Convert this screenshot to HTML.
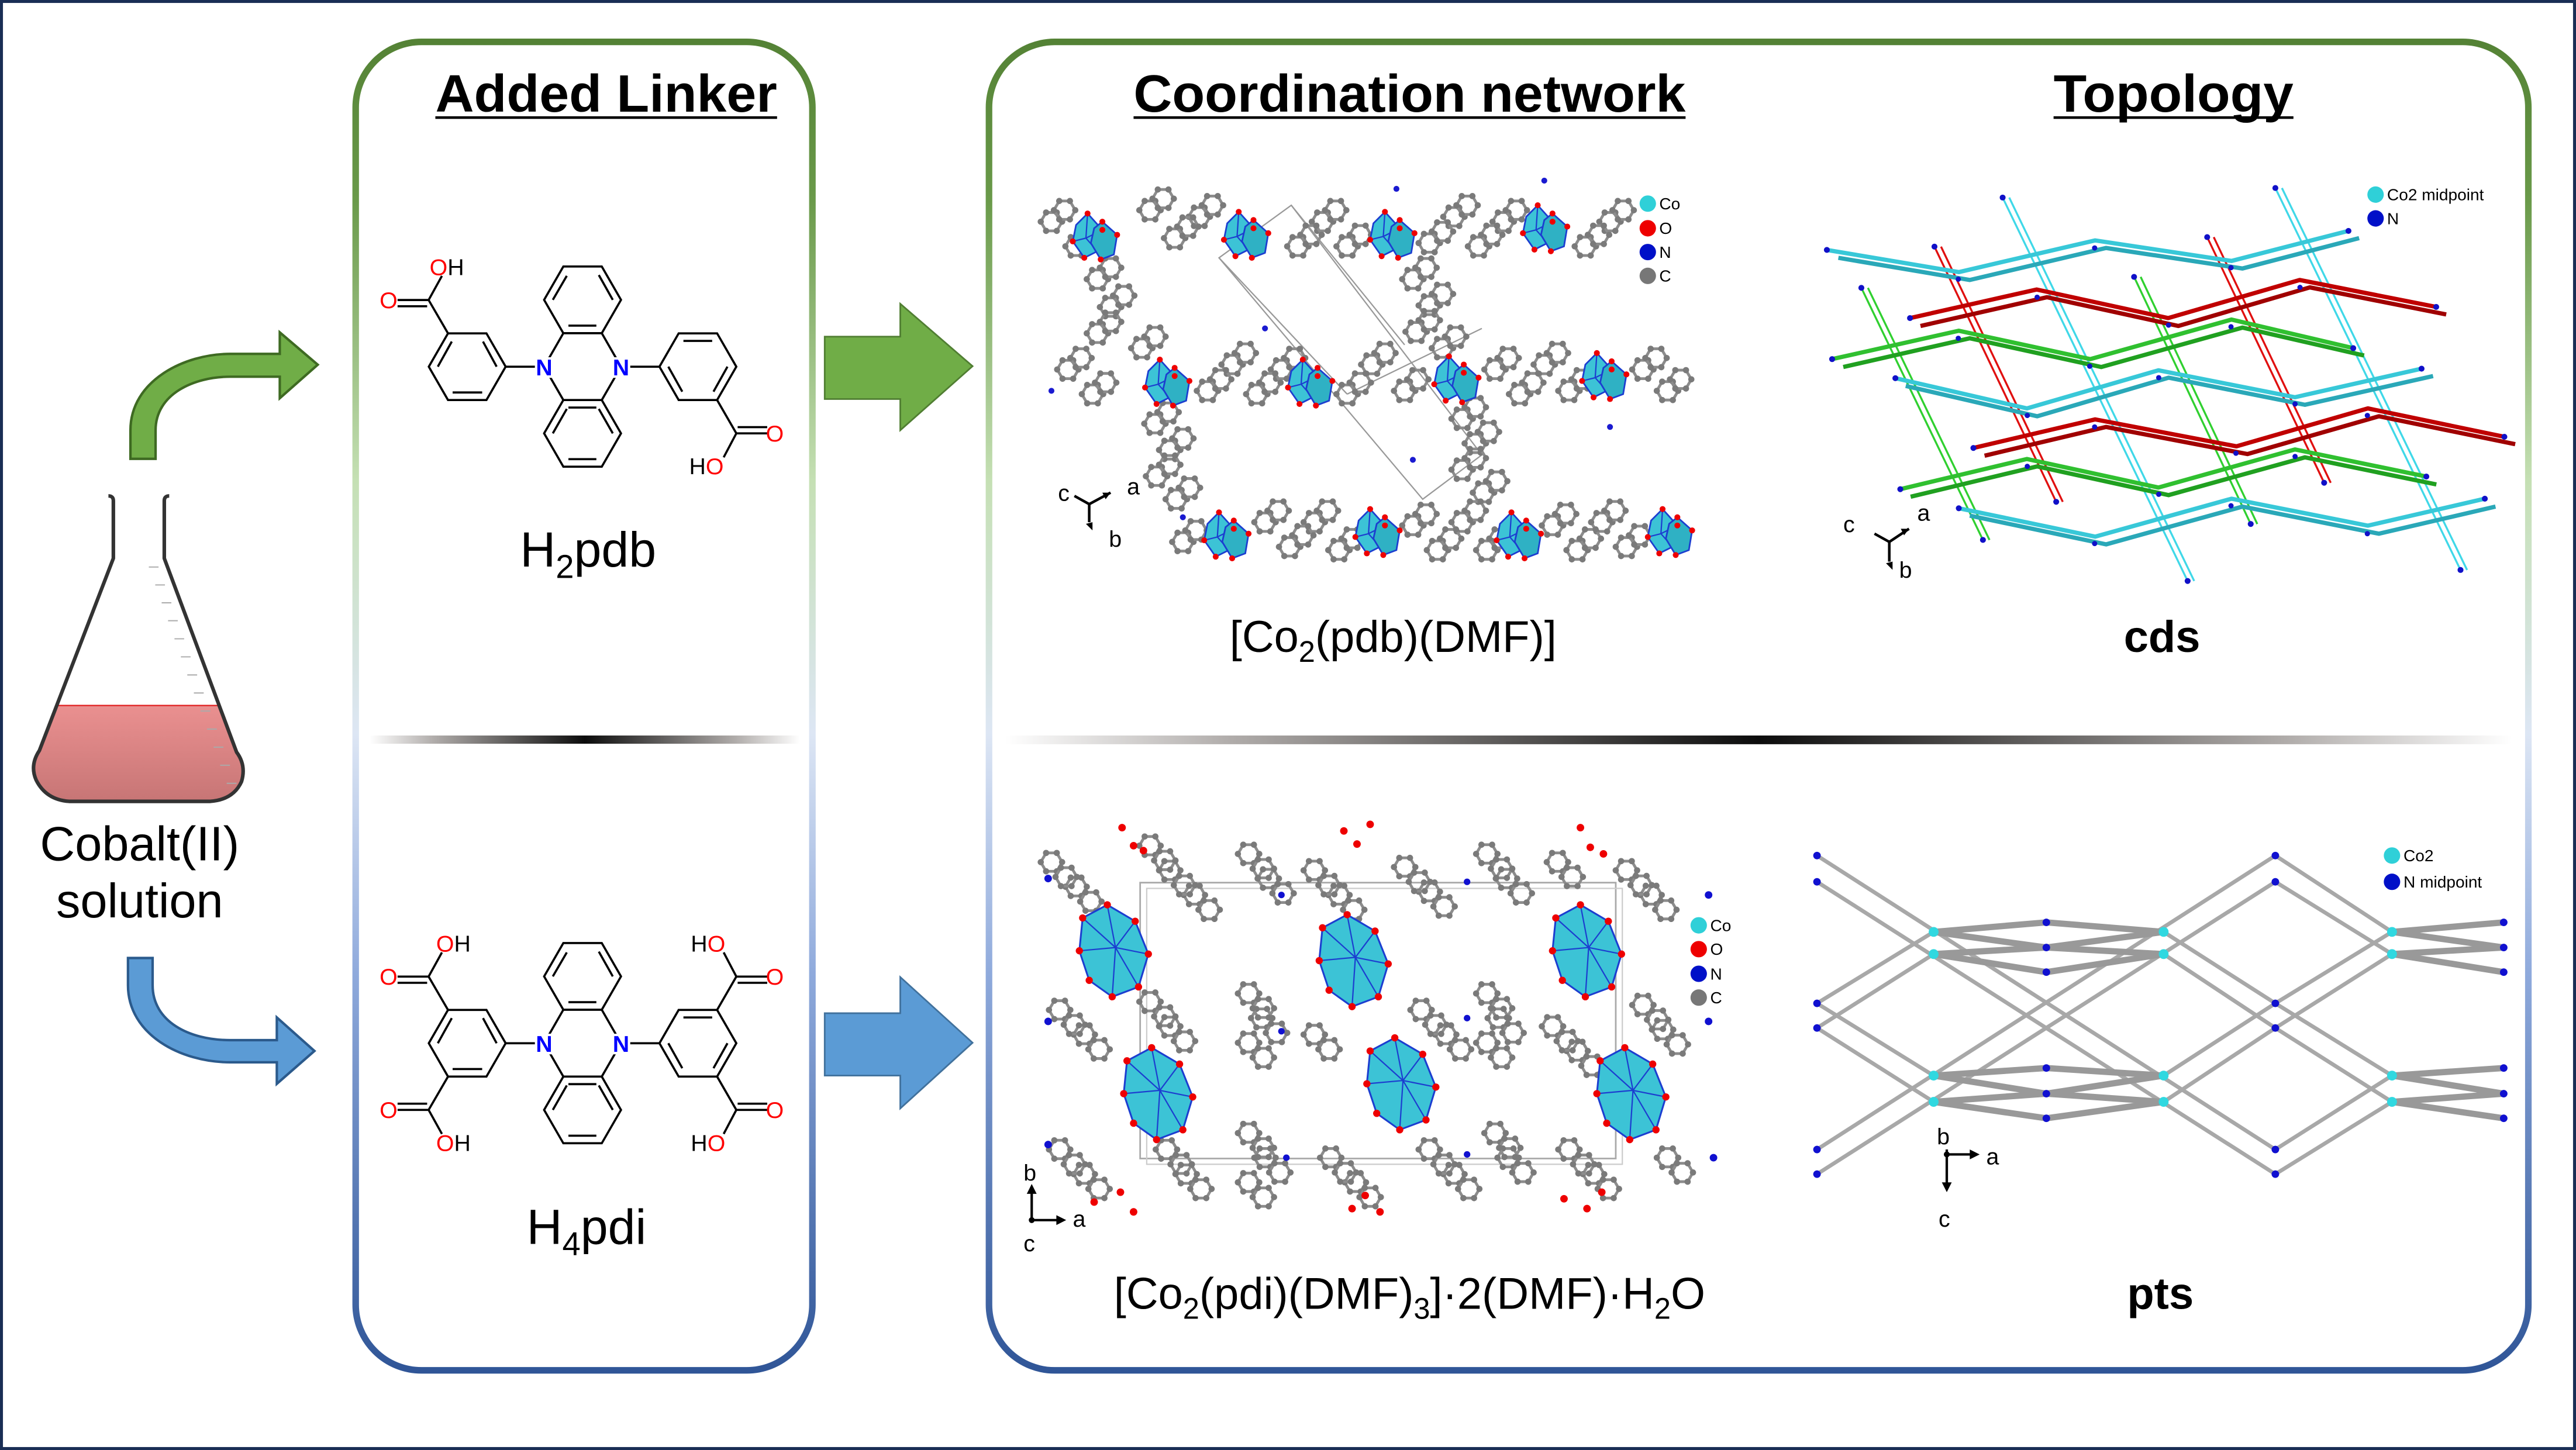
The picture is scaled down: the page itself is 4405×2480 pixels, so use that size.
<!DOCTYPE html>
<html><head><meta charset="utf-8"><style>
html,body{margin:0;padding:0;background:#fff;}
svg{display:block;}
text{font-family:"Liberation Sans",Arial,sans-serif;}
</style></head><body>
<svg width="4405" height="2480" viewBox="0 0 1568 883" preserveAspectRatio="none" xmlns="http://www.w3.org/2000/svg">
<defs>
<linearGradient id="pg" gradientUnits="userSpaceOnUse" x1="0" y1="25" x2="0" y2="836">
<stop offset="0" stop-color="#548235"/><stop offset="0.12" stop-color="#6a9a4a"/><stop offset="0.33" stop-color="#c5e0b4"/><stop offset="0.52" stop-color="#dde6f4"/><stop offset="0.7" stop-color="#8faadc"/><stop offset="1" stop-color="#2f5597"/>
</linearGradient>
<linearGradient id="dv" x1="0" y1="0" x2="1" y2="0">
<stop offset="0" stop-color="#fff"/><stop offset="0.15" stop-color="#b0acaa"/><stop offset="0.5" stop-color="#0c0c0c"/><stop offset="0.85" stop-color="#b0acaa"/><stop offset="1" stop-color="#fff"/>
</linearGradient>
<linearGradient id="liq" x1="0" y1="0" x2="0" y2="1">
<stop offset="0" stop-color="#ea9090"/><stop offset="1" stop-color="#c07070"/>
</linearGradient>
<clipPath id="fc"><path d="M69,300 L69,340 L24,457 Q18,466 22,475 Q28,487 42,488 L128,488 Q142,487 147,476 Q150,466 144,458 L100,340 L100,300 Z"/></clipPath>
<g id="ring"><polygon points="-6.5,0 -3.25,-5.6 3.25,-5.6 6.5,0 3.25,5.6 -3.25,5.6" fill="none" stroke="#8c8c8c" stroke-width="1.7"/><circle cx="-6.5" cy="0" r="1.9" fill="#7a7a7a"/><circle cx="-3.25" cy="-5.6" r="1.9" fill="#7a7a7a"/><circle cx="3.25" cy="-5.6" r="1.9" fill="#7a7a7a"/><circle cx="6.5" cy="0" r="1.9" fill="#7a7a7a"/><circle cx="3.25" cy="5.6" r="1.9" fill="#7a7a7a"/><circle cx="-3.25" cy="5.6" r="1.9" fill="#7a7a7a"/></g>
<g id="poly"><polygon points="0,-13 9,-3 6,10 -2,14 -9,4 -7,-6" fill="#3cc3d6" stroke="#1c3ed0" stroke-width="1"/><polyline points="0,-13 -1,2 6,10" fill="none" stroke="#1c3ed0" stroke-width="0.8"/><line x1="-1" y1="2" x2="-9" y2="4" stroke="#1c3ed0" stroke-width="0.8"/><line x1="-1" y1="2" x2="9" y2="-3" stroke="#1c3ed0" stroke-width="0.8"/><polygon points="9,-8 18,0 16,12 8,15 2,5 4,-4" fill="#2fb1c4" stroke="#1c3ed0" stroke-width="1"/><circle cx="0" cy="-13" r="1.8" fill="#e00"/><circle cx="9" cy="-3" r="1.8" fill="#e00"/><circle cx="-9" cy="4" r="1.8" fill="#e00"/><circle cx="-2" cy="14" r="1.8" fill="#e00"/><circle cx="18" cy="0" r="1.8" fill="#e00"/><circle cx="8" cy="15" r="1.8" fill="#e00"/><circle cx="9" cy="-8" r="1.8" fill="#e00"/></g>
<g id="bigpoly"><polygon points="-20,-20 -5,-28 12,-18 20,2 14,22 -2,28 -16,18 -22,0" fill="#3cc3d6" stroke="#1c3ed0" stroke-width="1.1"/><polyline points="-20,-20 0,-2 12,-18" fill="none" stroke="#1c3ed0" stroke-width="0.8"/><path d="M0,-2 L20,2 M0,-2 L-2,28 M0,-2 L-22,0 M-5,-28 L0,-2 M14,22 L0,-2" fill="none" stroke="#1c3ed0" stroke-width="0.8"/><circle cx="-20" cy="-20" r="2.2" fill="#e00"/><circle cx="-5" cy="-28" r="2.2" fill="#e00"/><circle cx="12" cy="-18" r="2.2" fill="#e00"/><circle cx="20" cy="2" r="2.2" fill="#e00"/><circle cx="14" cy="22" r="2.2" fill="#e00"/><circle cx="-2" cy="28" r="2.2" fill="#e00"/><circle cx="-16" cy="18" r="2.2" fill="#e00"/><circle cx="-22" cy="0" r="2.2" fill="#e00"/></g>
<g id="core" fill="none" stroke="#000" stroke-width="1.3">
<polygon points="331.2,182.6 342.9,162.3 366.3,162.3 378,182.6 366.3,202.9 342.9,202.9"/>
<polygon points="331.2,263.9 342.9,243.6 366.3,243.6 378,263.9 366.3,284.2 342.9,284.2"/>
<polyline points="342.9,202.9 331.2,223.3 342.9,243.6"/>
<polyline points="366.3,202.9 378,223.3 366.3,243.6"/>
<polygon points="261,223.3 272.7,203 296.1,203 307.8,223.3 296.1,243.6 272.7,243.6"/>
<polygon points="401.4,223.3 413.1,203 436.5,203 448.2,223.3 436.5,243.6 413.1,243.6"/>
<line x1="307.8" y1="223.3" x2="331.2" y2="223.3"/><line x1="378" y1="223.3" x2="401.4" y2="223.3"/>
<line x1="336.5" y1="182.6" x2="345" y2="168"/>
<line x1="346" y1="198.3" x2="363" y2="198.3"/><line x1="373" y1="182.6" x2="364.5" y2="167.5"/>
<line x1="346" y1="248.2" x2="363" y2="248.2"/><line x1="346" y1="279.6" x2="363" y2="279.6"/><line x1="336.5" y1="263.9" x2="345" y2="249"/><line x1="373" y1="263.9" x2="364.5" y2="249"/>
<line x1="275.5" y1="239" x2="293.5" y2="239"/><line x1="266.5" y1="223.3" x2="275" y2="208"/><line x1="302.3" y1="223.3" x2="294" y2="208"/>
<line x1="416" y1="207.6" x2="433.5" y2="207.6"/><line x1="406.8" y1="223.3" x2="415.3" y2="238.5"/><line x1="442.8" y1="223.3" x2="434.3" y2="238.5"/>
</g>
<g id="topRings">
<use href="#ring" x="640" y="135"/><use href="#ring" x="655" y="150"/><use href="#ring" x="700" y="128"/><use href="#ring" x="715" y="145"/><use href="#ring" x="730" y="132"/><use href="#ring" x="790" y="150"/><use href="#ring" x="805" y="135"/><use href="#ring" x="820" y="150"/><use href="#ring" x="870" y="148"/><use href="#ring" x="885" y="132"/><use href="#ring" x="900" y="150"/><use href="#ring" x="915" y="135"/><use href="#ring" x="965" y="150"/><use href="#ring" x="980" y="135"/>
<use href="#ring" x="650" y="225"/><use href="#ring" x="665" y="240"/><use href="#ring" x="735" y="238"/><use href="#ring" x="750" y="222"/><use href="#ring" x="765" y="240"/><use href="#ring" x="780" y="225"/><use href="#ring" x="820" y="240"/><use href="#ring" x="835" y="222"/><use href="#ring" x="855" y="238"/><use href="#ring" x="910" y="225"/><use href="#ring" x="925" y="240"/><use href="#ring" x="940" y="222"/><use href="#ring" x="955" y="238"/><use href="#ring" x="1000" y="225"/><use href="#ring" x="1015" y="238"/>
<use href="#ring" x="720" y="330"/><use href="#ring" x="770" y="318"/><use href="#ring" x="785" y="333"/><use href="#ring" x="800" y="318"/><use href="#ring" x="815" y="335"/><use href="#ring" x="860" y="320"/><use href="#ring" x="875" y="335"/><use href="#ring" x="890" y="318"/><use href="#ring" x="905" y="335"/><use href="#ring" x="945" y="320"/><use href="#ring" x="960" y="335"/><use href="#ring" x="975" y="318"/><use href="#ring" x="990" y="333"/>
<use href="#ring" x="668" y="170"/><use href="#ring" x="676" y="187"/><use href="#ring" x="668" y="203"/><use href="#ring" x="695" y="212"/>
<use href="#ring" x="860" y="170"/><use href="#ring" x="870" y="186"/><use href="#ring" x="862" y="202"/><use href="#ring" x="878" y="212"/>
<use href="#ring" x="703" y="258"/><use href="#ring" x="712" y="274"/><use href="#ring" x="704" y="290"/><use href="#ring" x="716" y="304"/>
<use href="#ring" x="890" y="255"/><use href="#ring" x="898" y="270"/><use href="#ring" x="890" y="286"/><use href="#ring" x="903" y="300"/>
</g>
<g id="botRings">
<use href="#ring" x="640" y="525"/><use href="#ring" x="655" y="540"/><use href="#ring" x="700" y="515"/><use href="#ring" x="712" y="530"/><use href="#ring" x="727" y="545"/><use href="#ring" x="760" y="520"/><use href="#ring" x="772" y="535"/><use href="#ring" x="800" y="530"/><use href="#ring" x="815" y="545"/><use href="#ring" x="855" y="528"/><use href="#ring" x="870" y="543"/><use href="#ring" x="905" y="520"/><use href="#ring" x="917" y="535"/><use href="#ring" x="948" y="525"/><use href="#ring" x="990" y="530"/><use href="#ring" x="1005" y="545"/>
<use href="#ring" x="645" y="615"/><use href="#ring" x="660" y="630"/><use href="#ring" x="700" y="610"/><use href="#ring" x="712" y="625"/><use href="#ring" x="760" y="605"/><use href="#ring" x="768" y="620"/><use href="#ring" x="760" y="635"/><use href="#ring" x="800" y="630"/><use href="#ring" x="865" y="615"/><use href="#ring" x="880" y="630"/><use href="#ring" x="905" y="605"/><use href="#ring" x="912" y="620"/><use href="#ring" x="905" y="635"/><use href="#ring" x="945" y="625"/><use href="#ring" x="960" y="640"/><use href="#ring" x="1000" y="612"/><use href="#ring" x="1012" y="627"/>
<use href="#ring" x="645" y="700"/><use href="#ring" x="660" y="715"/><use href="#ring" x="710" y="700"/><use href="#ring" x="722" y="715"/><use href="#ring" x="760" y="690"/><use href="#ring" x="770" y="705"/><use href="#ring" x="760" y="720"/><use href="#ring" x="810" y="705"/><use href="#ring" x="825" y="720"/><use href="#ring" x="870" y="700"/><use href="#ring" x="885" y="715"/><use href="#ring" x="910" y="690"/><use href="#ring" x="918" y="705"/><use href="#ring" x="955" y="700"/><use href="#ring" x="970" y="715"/><use href="#ring" x="1015" y="705"/>
</g>
</defs>
<rect x="0" y="0" width="1568" height="883" fill="#fff"/>
<rect x="0.9" y="0.9" width="1566.2" height="881.2" fill="none" stroke="#1a2e55" stroke-width="1.8"/>

<!-- flask -->
<rect x="0" y="429.6" width="170" height="70" fill="url(#liq)" clip-path="url(#fc)"/>
<line x1="35" y1="429.6" x2="133" y2="429.6" stroke="#e02020" stroke-width="0.8"/>
<path d="M66,302 Q69,302 69,305 L69,340 L24,457 Q18,466 22,475 Q28,487 42,488 L128,488 Q142,487 147,476 Q150,466 144,458 L100,340 L100,305 Q100,302 103,302" fill="none" stroke="#333" stroke-width="2.2" stroke-linejoin="round"/>
<g stroke="#aaa" stroke-width="0.7">
<line x1="90.6" y1="345.3" x2="96.5" y2="345.3"/><line x1="94.5" y1="356.2" x2="100.4" y2="356.2"/><line x1="98.4" y1="367.1" x2="104.3" y2="367.1"/><line x1="102.3" y1="378" x2="108.2" y2="378"/><line x1="106.2" y1="389" x2="112.1" y2="389"/><line x1="110.1" y1="400" x2="116" y2="400"/><line x1="114" y1="411" x2="120" y2="411"/><line x1="118" y1="422" x2="124" y2="422"/><line x1="122" y1="433" x2="128" y2="433"/><line x1="126" y1="444" x2="132" y2="444"/><line x1="130" y1="455" x2="136" y2="455"/><line x1="134" y1="466" x2="140" y2="466"/><line x1="138" y1="477" x2="144" y2="477"/>
</g>
<text x="85" y="524" font-size="29.5" text-anchor="middle">Cobalt(II)</text>
<text x="85" y="558.7" font-size="29.5" text-anchor="middle">solution</text>

<!-- curved arrows -->
<path d="M79.4,279.4 L79.4,262 C79.4,232 112,215.5 140,215.5 L170.3,215.5 L170.3,202.4 L193.4,222.1 L170.3,242.5 L170.3,229.4 L140,229.4 C118,229.4 94.7,240 94.7,262 L94.7,279.4 Z" fill="#70ad47" stroke="#3e6a22" stroke-width="1.5"/>
<path d="M77.9,583.4 L77.9,600 C77.9,630 110,646.9 140,646.9 L168.5,646.9 L168.5,660 L191.4,640 L168.5,619.6 L168.5,633.4 L140,633.4 C115,633.4 92.9,622 92.9,600 L92.9,583.4 Z" fill="#5b9bd5" stroke="#2b5a8c" stroke-width="1.5"/>

<!-- panels -->
<rect x="216.5" y="25.5" width="278" height="809" rx="40" fill="none" stroke="url(#pg)" stroke-width="4"/>
<rect x="602" y="25.5" width="937" height="809" rx="40" fill="none" stroke="url(#pg)" stroke-width="4"/>
<rect x="225" y="447.9" width="262" height="5" fill="url(#dv)"/>
<rect x="612" y="447.9" width="917" height="5.3" fill="url(#dv)"/>

<!-- block arrows -->
<path d="M502,205 L548,205 L548,185 L592,223 L548,262 L548,243 L502,243 Z" fill="#70ad47" stroke="#507e32" stroke-width="1"/>
<path d="M502,617 L548,617 L548,595 L592,635 L548,675 L548,655 L502,655 Z" fill="#5b9bd5" stroke="#41719c" stroke-width="1"/>

<!-- titles -->
<text x="265" y="68" font-size="32" font-weight="bold" textLength="208" lengthAdjust="spacingAndGlyphs">Added Linker</text>
<rect x="265" y="70.8" width="208" height="1.6" fill="#000"/>
<text x="690" y="68" font-size="32" font-weight="bold" textLength="336" lengthAdjust="spacingAndGlyphs">Coordination network</text>
<rect x="690" y="70.8" width="336" height="1.6" fill="#000"/>
<text x="1250" y="68" font-size="32" font-weight="bold" textLength="146" lengthAdjust="spacingAndGlyphs">Topology</text>
<rect x="1250" y="70.8" width="146" height="1.6" fill="#000"/>

<!-- top molecule -->
<use href="#core"/>
<g fill="none" stroke="#000" stroke-width="1.3">
<line x1="272.7" y1="203" x2="260.9" y2="182.7"/><line x1="260.9" y1="182.7" x2="242" y2="182.7"/><line x1="260" y1="186.5" x2="242" y2="186.5"/><line x1="260.9" y1="182.7" x2="269" y2="168"/>
<line x1="436.5" y1="243.6" x2="448.2" y2="263.9"/><line x1="448.2" y1="263.9" x2="467" y2="263.9"/><line x1="449" y1="260.1" x2="467" y2="260.1"/><line x1="448.2" y1="263.9" x2="440.5" y2="278.5"/>
</g>
<g font-size="14">
<text x="331.2" y="228.5" fill="#0000ff" text-anchor="middle" font-weight="bold" stroke="#fff" stroke-width="3" paint-order="stroke">N</text><text x="378" y="228.5" fill="#0000ff" text-anchor="middle" font-weight="bold" stroke="#fff" stroke-width="3" paint-order="stroke">N</text>
<text x="236.5" y="187.6" fill="#f00" text-anchor="middle">O</text>
<text x="272" y="167.5" fill="#f00" text-anchor="middle">O<tspan fill="#000">H</tspan></text>
<text x="471.6" y="268.8" fill="#f00" text-anchor="middle">O</text>
<text x="430" y="288.8" fill="#000" text-anchor="middle">H<tspan fill="#f00">O</tspan></text>
</g>
<text x="358" y="345" font-size="30" text-anchor="middle">H<tspan font-size="20" dy="7">2</tspan><tspan dy="-7">pdb</tspan></text>

<!-- bottom molecule -->
<use href="#core" transform="translate(0,412)"/>
<g fill="none" stroke="#000" stroke-width="1.3" transform="translate(0,412)">
<line x1="272.7" y1="203" x2="260.9" y2="182.7"/><line x1="260.9" y1="182.7" x2="242" y2="182.7"/><line x1="260" y1="186.5" x2="242" y2="186.5"/><line x1="260.9" y1="182.7" x2="269" y2="168"/>
<line x1="272.7" y1="243.6" x2="260.9" y2="263.9"/><line x1="260.9" y1="263.9" x2="242" y2="263.9"/><line x1="260" y1="260.1" x2="242" y2="260.1"/><line x1="260.9" y1="263.9" x2="269" y2="278.5"/>
<line x1="436.5" y1="203" x2="448.2" y2="182.7"/><line x1="448.2" y1="182.7" x2="467" y2="182.7"/><line x1="449" y1="186.5" x2="467" y2="186.5"/><line x1="448.2" y1="182.7" x2="440.5" y2="168"/>
<line x1="436.5" y1="243.6" x2="448.2" y2="263.9"/><line x1="448.2" y1="263.9" x2="467" y2="263.9"/><line x1="449" y1="260.1" x2="467" y2="260.1"/><line x1="448.2" y1="263.9" x2="440.5" y2="278.5"/>
</g>
<g font-size="14" transform="translate(0,412)">
<text x="331.2" y="228.5" fill="#0000ff" text-anchor="middle" font-weight="bold" stroke="#fff" stroke-width="3" paint-order="stroke">N</text><text x="378" y="228.5" fill="#0000ff" text-anchor="middle" font-weight="bold" stroke="#fff" stroke-width="3" paint-order="stroke">N</text>
<text x="236.5" y="187.6" fill="#f00" text-anchor="middle">O</text>
<text x="276" y="167.5" fill="#f00" text-anchor="middle">O<tspan fill="#000">H</tspan></text>
<text x="236.5" y="268.8" fill="#f00" text-anchor="middle">O</text>
<text x="276" y="288.8" fill="#f00" text-anchor="middle">O<tspan fill="#000">H</tspan></text>
<text x="471.6" y="187.6" fill="#f00" text-anchor="middle">O</text>
<text x="431" y="167.5" fill="#000" text-anchor="middle">H<tspan fill="#f00">O</tspan></text>
<text x="471.6" y="268.8" fill="#f00" text-anchor="middle">O</text>
<text x="431" y="288.8" fill="#000" text-anchor="middle">H<tspan fill="#f00">O</tspan></text>
</g>
<text x="357" y="757.5" font-size="30" text-anchor="middle">H<tspan font-size="20" dy="7">4</tspan><tspan dy="-7">pdi</tspan></text>

<!-- top crystal -->
<g stroke="#999" stroke-width="0.8" fill="none">
<polygon points="786,125 742,157 866,304 902,277"/><line x1="742" y1="157" x2="820" y2="240"/><line x1="786" y1="125" x2="855" y2="210"/><line x1="820" y1="240" x2="902" y2="200"/>
</g>
<use href="#topRings"/>
<use href="#topRings" transform="translate(8,-7)"/>
<g>
<use href="#poly" x="662" y="143"/><use href="#poly" x="754" y="142"/><use href="#poly" x="843" y="142"/><use href="#poly" x="936" y="138"/>
<use href="#poly" x="706" y="232"/><use href="#poly" x="793" y="232"/><use href="#poly" x="882" y="230"/><use href="#poly" x="972" y="228"/>
<use href="#poly" x="742" y="325"/><use href="#poly" x="834" y="323"/><use href="#poly" x="920" y="325"/><use href="#poly" x="1012" y="323"/>
</g>
<g fill="#1a1ad0"><circle cx="720" cy="315" r="1.8"/><circle cx="770" cy="200" r="1.8"/><circle cx="850" cy="115" r="1.8"/><circle cx="940" cy="110" r="1.8"/><circle cx="980" cy="260" r="1.8"/><circle cx="860" cy="280" r="1.8"/><circle cx="640" cy="238" r="1.8"/></g>
<g font-size="10"><circle cx="1003" cy="124" r="5" fill="#2fd0d8"/><text x="1010" y="127.5">Co</text><circle cx="1003" cy="139" r="5" fill="#e00"/><text x="1010" y="142.5">O</text><circle cx="1003" cy="153.5" r="5" fill="#0010c8"/><text x="1010" y="157">N</text><circle cx="1003" cy="168" r="5" fill="#777"/><text x="1010" y="171.5">C</text></g>
<g stroke="#000" stroke-width="1.6" fill="none"><line x1="663" y1="307" x2="663" y2="318"/><line x1="663" y1="307" x2="654" y2="302"/><line x1="663" y1="307" x2="676" y2="300"/></g>
<path d="M676,300 l-5,0 l2,4 z" fill="#000"/><path d="M665,323 l-4,-4 l4,-1 z" fill="#000"/>
<text x="644" y="305" font-size="14">c</text><text x="686" y="301" font-size="14">a</text><text x="675" y="333" font-size="14">b</text>
<text x="848" y="397" font-size="27" text-anchor="middle">[Co<tspan font-size="18" dy="6">2</tspan><tspan dy="-6">(pdb)(DMF)]</tspan></text>

<!-- cds -->
<g fill="none" stroke-linejoin="round">
<g stroke-width="1.2">
<path d="M1219,120.3 L1331.6,353.8 M1223,120.3 L1335.6,353.8 M1385,114.5 L1497.7,347.1 M1389,114.5 L1501.7,347.1" stroke="#40d8e8"/>
<path d="M1177.5,150.2 L1251.6,305.6 M1181.5,150.2 L1255.6,305.6 M1343.5,144.4 L1414.7,294 M1347.5,144.4 L1418.7,294" stroke="#e01010"/>
<path d="M1133,175.3 L1207,328.8 M1137,175.3 L1211,328.8 M1299,168.6 L1370,319.1 M1303,168.6 L1374,319.1" stroke="#30d030"/>
</g>
<g stroke-width="2.6">
<path d="M1112,152.2 L1192.3,165.7 L1275.3,146.4 L1358.3,158.9 L1429.5,140.6" stroke="#38c8d8"/><path d="M1119,157 L1199,170.5 L1282,151 L1365,163.5 L1436,145" stroke="#2aa8b8"/>
<path d="M1162.6,193.7 L1239.7,176.3 L1319.8,193.7 L1399.8,170.5 L1482.9,186.9" stroke="#c00000"/><path d="M1169,198.5 L1246,181 L1326,198.5 L1406,175 L1489,191.5" stroke="#a00000"/>
<path d="M1115.2,218.7 L1192.3,201.4 L1272.3,218.7 L1358.3,194.6 L1432.4,212" stroke="#30c030"/><path d="M1122,223.5 L1199,206 L1279,223.5 L1365,199.5 L1439,216.5" stroke="#20a020"/>
<path d="M1153.7,230.3 L1233.8,248.7 L1313.8,225.5 L1396.9,241.9 L1474,224.5" stroke="#38c8d8"/><path d="M1160,235 L1240,253.5 L1320,230 L1403,246.5 L1481,229" stroke="#2aa8b8"/>
<path d="M1201.2,272.8 L1275.3,255.4 L1361.3,271.8 L1441.3,248.7 L1524.4,266" stroke="#c00000"/><path d="M1208,277.5 L1282,260 L1368,276.5 L1448,253.5 L1531,270.5" stroke="#a00000"/>
<path d="M1156.7,297.9 L1233.8,279.5 L1313.8,296.9 L1396.9,273.7 L1476.9,290.2" stroke="#30c030"/><path d="M1163,302.5 L1240,284 L1320,301.5 L1403,278.5 L1483,295" stroke="#20a020"/>
<path d="M1192.3,309.5 L1275.3,326.8 L1358.3,303.7 L1441.3,320.1 L1512.5,303.7" stroke="#38c8d8"/><path d="M1199,314 L1282,331.5 L1365,308.5 L1448,325 L1519,308.5" stroke="#2aa8b8"/>
</g>
</g>
<g fill="#1010c8">
<circle cx="1112" cy="152.2" r="1.8"/><circle cx="1429.5" cy="140.6" r="1.8"/><circle cx="1162.6" cy="193.7" r="1.8"/><circle cx="1482.9" cy="186.9" r="1.8"/><circle cx="1115.2" cy="218.7" r="1.8"/><circle cx="1432.4" cy="212" r="1.8"/><circle cx="1153.7" cy="230.3" r="1.8"/><circle cx="1474" cy="224.5" r="1.8"/><circle cx="1201.2" cy="272.8" r="1.8"/><circle cx="1524.4" cy="266" r="1.8"/><circle cx="1156.7" cy="297.9" r="1.8"/><circle cx="1476.9" cy="290.2" r="1.8"/><circle cx="1192.3" cy="309.5" r="1.8"/><circle cx="1512.5" cy="303.7" r="1.8"/>
<circle cx="1219" cy="120.3" r="1.8"/><circle cx="1331.6" cy="353.8" r="1.8"/><circle cx="1385" cy="114.5" r="1.8"/><circle cx="1497.7" cy="347.1" r="1.8"/><circle cx="1177.5" cy="150.2" r="1.8"/><circle cx="1251.6" cy="305.6" r="1.8"/><circle cx="1343.5" cy="144.4" r="1.8"/><circle cx="1414.7" cy="294" r="1.8"/><circle cx="1133" cy="175.3" r="1.8"/><circle cx="1207" cy="328.8" r="1.8"/><circle cx="1299" cy="168.6" r="1.8"/><circle cx="1370" cy="319.1" r="1.8"/>
<circle cx="1192" cy="170" r="1.6"/><circle cx="1275" cy="151" r="1.6"/><circle cx="1358" cy="163" r="1.6"/><circle cx="1240" cy="181" r="1.6"/><circle cx="1320" cy="198" r="1.6"/><circle cx="1400" cy="175" r="1.6"/><circle cx="1192" cy="206" r="1.6"/><circle cx="1272" cy="223" r="1.6"/><circle cx="1358" cy="199" r="1.6"/><circle cx="1234" cy="253" r="1.6"/><circle cx="1314" cy="230" r="1.6"/><circle cx="1397" cy="246" r="1.6"/><circle cx="1275" cy="260" r="1.6"/><circle cx="1361" cy="276" r="1.6"/><circle cx="1441" cy="253" r="1.6"/><circle cx="1234" cy="284" r="1.6"/><circle cx="1314" cy="301" r="1.6"/><circle cx="1397" cy="278" r="1.6"/><circle cx="1275" cy="331" r="1.6"/><circle cx="1358" cy="308" r="1.6"/><circle cx="1441" cy="325" r="1.6"/>
</g>
<g font-size="10"><circle cx="1446" cy="118.5" r="5" fill="#2fd0d8"/><text x="1453" y="122">Co2 midpoint</text><circle cx="1446" cy="133" r="5" fill="#0010c8"/><text x="1453" y="136.5">N</text></g>
<g stroke="#000" stroke-width="1.6" fill="none"><line x1="1150" y1="330" x2="1150" y2="342"/><line x1="1150" y1="330" x2="1141" y2="325"/><line x1="1150" y1="330" x2="1162" y2="322"/></g>
<path d="M1162,322 l-5,0 l2,4 z" fill="#000"/><path d="M1152,347 l-4,-4 l4,-1 z" fill="#000"/>
<text x="1122" y="324" font-size="14">c</text><text x="1167" y="317" font-size="14">a</text><text x="1156" y="352" font-size="14">b</text>
<text x="1316" y="397" font-size="27" font-weight="bold" text-anchor="middle">cds</text>

<!-- bottom crystal -->
<rect x="694" y="537.5" width="289.5" height="168" fill="none" stroke="#aaa" stroke-width="1"/>
<rect x="698" y="541" width="289.5" height="168" fill="none" stroke="#ccc" stroke-width="0.8"/>
<use href="#botRings"/>
<use href="#botRings" transform="translate(9,9)"/>
<g><use href="#bigpoly" x="679" y="579"/><use href="#bigpoly" x="825" y="585"/><use href="#bigpoly" x="967" y="579"/><use href="#bigpoly" x="706" y="666"/><use href="#bigpoly" x="854" y="660"/><use href="#bigpoly" x="994" y="666"/></g>
<g fill="#e00">
<circle cx="683" cy="504" r="2.3"/><circle cx="690" cy="515" r="2.3"/><circle cx="696" cy="518" r="2.3"/><circle cx="818" cy="506" r="2.3"/><circle cx="826" cy="514" r="2.3"/><circle cx="834" cy="502" r="2.3"/><circle cx="962" cy="504" r="2.3"/><circle cx="968" cy="516" r="2.3"/><circle cx="976" cy="520" r="2.3"/>
<circle cx="666" cy="732" r="2.3"/><circle cx="690" cy="738" r="2.3"/><circle cx="682" cy="726" r="2.3"/><circle cx="823" cy="736" r="2.3"/><circle cx="831" cy="728" r="2.3"/><circle cx="840" cy="738" r="2.3"/><circle cx="952" cy="730" r="2.3"/><circle cx="966" cy="736" r="2.3"/><circle cx="975" cy="726" r="2.3"/>
</g>
<g fill="#1010d0"><circle cx="638" cy="535" r="2.3"/><circle cx="1040" cy="545" r="2.3"/><circle cx="638" cy="622" r="2.3"/><circle cx="1040" cy="622" r="2.3"/><circle cx="638" cy="697" r="2.3"/><circle cx="1043" cy="705" r="2.3"/><circle cx="780" cy="545" r="2"/><circle cx="893" cy="537" r="2"/><circle cx="780" cy="628" r="2"/><circle cx="893" cy="620" r="2"/><circle cx="783" cy="705" r="2"/><circle cx="893" cy="703" r="2"/></g>
<g font-size="10"><circle cx="1034" cy="563.5" r="5" fill="#2fd0d8"/><text x="1041" y="567">Co</text><circle cx="1034" cy="578" r="5" fill="#e00"/><text x="1041" y="581.5">O</text><circle cx="1034" cy="593" r="5" fill="#0010c8"/><text x="1041" y="596.5">N</text><circle cx="1034" cy="607.5" r="5" fill="#777"/><text x="1041" y="611">C</text></g>
<g stroke="#000" stroke-width="1.5"><line x1="628" y1="743" x2="628" y2="725"/><line x1="628" y1="743" x2="645" y2="743"/></g>
<path d="M625,727 l3,-6 l3,6 z M643,740 l6,3 l-6,3 z" fill="#000"/><circle cx="628" cy="743" r="1.8" fill="#000"/>
<text x="623" y="719" font-size="14">b</text><text x="653" y="747" font-size="14">a</text><text x="623" y="762" font-size="14">c</text>
<text x="858" y="797" font-size="27" text-anchor="middle">[Co<tspan font-size="18" dy="6">2</tspan><tspan dy="-6">(pdi)(DMF)</tspan><tspan font-size="18" dy="6">3</tspan><tspan dy="-6">]·2(DMF)·H</tspan><tspan font-size="18" dy="6">2</tspan><tspan dy="-6">O</tspan></text>

<!-- pts -->
<g stroke="#a8a8a8" stroke-width="2.4" fill="none" stroke-linecap="round">
<line x1="1106" y1="521" x2="1385" y2="700"/><line x1="1106" y1="537" x2="1385" y2="715"/>
<line x1="1385" y1="521" x2="1106" y2="700"/><line x1="1385" y1="537" x2="1106" y2="715"/>
<line x1="1106" y1="611" x2="1177" y2="567.5"/><line x1="1106" y1="626" x2="1177" y2="581"/>
<line x1="1106" y1="611" x2="1177" y2="655"/><line x1="1106" y1="626" x2="1177" y2="671"/>
<line x1="1385" y1="521" x2="1456" y2="567.5"/><line x1="1385" y1="537" x2="1456" y2="581"/>
<line x1="1385" y1="611" x2="1456" y2="567.5"/><line x1="1385" y1="626" x2="1456" y2="581"/>
<line x1="1385" y1="611" x2="1456" y2="655"/><line x1="1385" y1="626" x2="1456" y2="671"/>
<line x1="1385" y1="611" x2="1317" y2="567.5"/><line x1="1385" y1="626" x2="1317" y2="581"/>
<line x1="1385" y1="611" x2="1317" y2="655"/><line x1="1385" y1="626" x2="1317" y2="671"/>
<line x1="1385" y1="700" x2="1456" y2="655"/><line x1="1385" y1="715" x2="1456" y2="671"/>
</g>
<g stroke="#999" stroke-width="3.8" fill="none" stroke-linecap="round">
<path d="M1177,567.5 L1245.6,561.7 L1317,567.5 M1177,567.5 L1245.6,577 L1317,581 M1177,581 L1245.6,577 L1317,567.5 M1177,581 L1245.6,592 L1317,581"/>
<path d="M1456,567.5 L1524,561.7 M1456,567.5 L1524,577 M1456,581 L1524,577 M1456,581 L1524,592"/>
<path d="M1177,655 L1245.6,650.4 L1317,655 M1177,655 L1245.6,666 L1317,671 M1177,671 L1245.6,666 L1317,655 M1177,671 L1245.6,681 L1317,671"/>
<path d="M1456,655 L1524,650.4 M1456,655 L1524,666 M1456,671 L1524,666 M1456,671 L1524,681"/>
</g>
<g fill="#1010d0">
<circle cx="1106" cy="521" r="2.3"/><circle cx="1106" cy="537" r="2.3"/><circle cx="1106" cy="611" r="2.3"/><circle cx="1106" cy="626" r="2.3"/><circle cx="1106" cy="700" r="2.3"/><circle cx="1106" cy="715" r="2.3"/>
<circle cx="1385" cy="521" r="2.3"/><circle cx="1385" cy="537" r="2.3"/><circle cx="1385" cy="611" r="2.3"/><circle cx="1385" cy="626" r="2.3"/><circle cx="1385" cy="700" r="2.3"/><circle cx="1385" cy="715" r="2.3"/>
<circle cx="1245.6" cy="561.7" r="2.3"/><circle cx="1245.6" cy="577" r="2.3"/><circle cx="1245.6" cy="592" r="2.3"/><circle cx="1245.6" cy="650.4" r="2.3"/><circle cx="1245.6" cy="666" r="2.3"/><circle cx="1245.6" cy="681" r="2.3"/>
<circle cx="1524" cy="561.7" r="2.3"/><circle cx="1524" cy="577" r="2.3"/><circle cx="1524" cy="592" r="2.3"/><circle cx="1524" cy="650.4" r="2.3"/><circle cx="1524" cy="666" r="2.3"/><circle cx="1524" cy="681" r="2.3"/>
</g>
<g fill="#30d8e0">
<circle cx="1177" cy="567.5" r="3"/><circle cx="1177" cy="581" r="3"/><circle cx="1317" cy="567.5" r="3"/><circle cx="1317" cy="581" r="3"/><circle cx="1456" cy="567.5" r="3"/><circle cx="1456" cy="581" r="3"/>
<circle cx="1177" cy="655" r="3"/><circle cx="1177" cy="671" r="3"/><circle cx="1317" cy="655" r="3"/><circle cx="1317" cy="671" r="3"/><circle cx="1456" cy="655" r="3"/><circle cx="1456" cy="671" r="3"/>
</g>
<g font-size="10"><circle cx="1456" cy="521" r="5" fill="#2fd0d8"/><text x="1463" y="524.5">Co2</text><circle cx="1456" cy="537" r="5" fill="#0010c8"/><text x="1463" y="540.5">N midpoint</text></g>
<g stroke="#000" stroke-width="1.5"><line x1="1185" y1="700" x2="1185" y2="722"/><line x1="1185" y1="703" x2="1201" y2="703"/></g>
<path d="M1199,700 l6,3 l-6,3 z M1182,720 l3,6 l3,-6 z" fill="#000"/><circle cx="1185" cy="703" r="1.8" fill="#000"/>
<text x="1179" y="697" font-size="14">b</text><text x="1209" y="709" font-size="14">a</text><text x="1180" y="747" font-size="14">c</text>
<text x="1315" y="797" font-size="27" font-weight="bold" text-anchor="middle">pts</text>
</svg>
</body></html>
